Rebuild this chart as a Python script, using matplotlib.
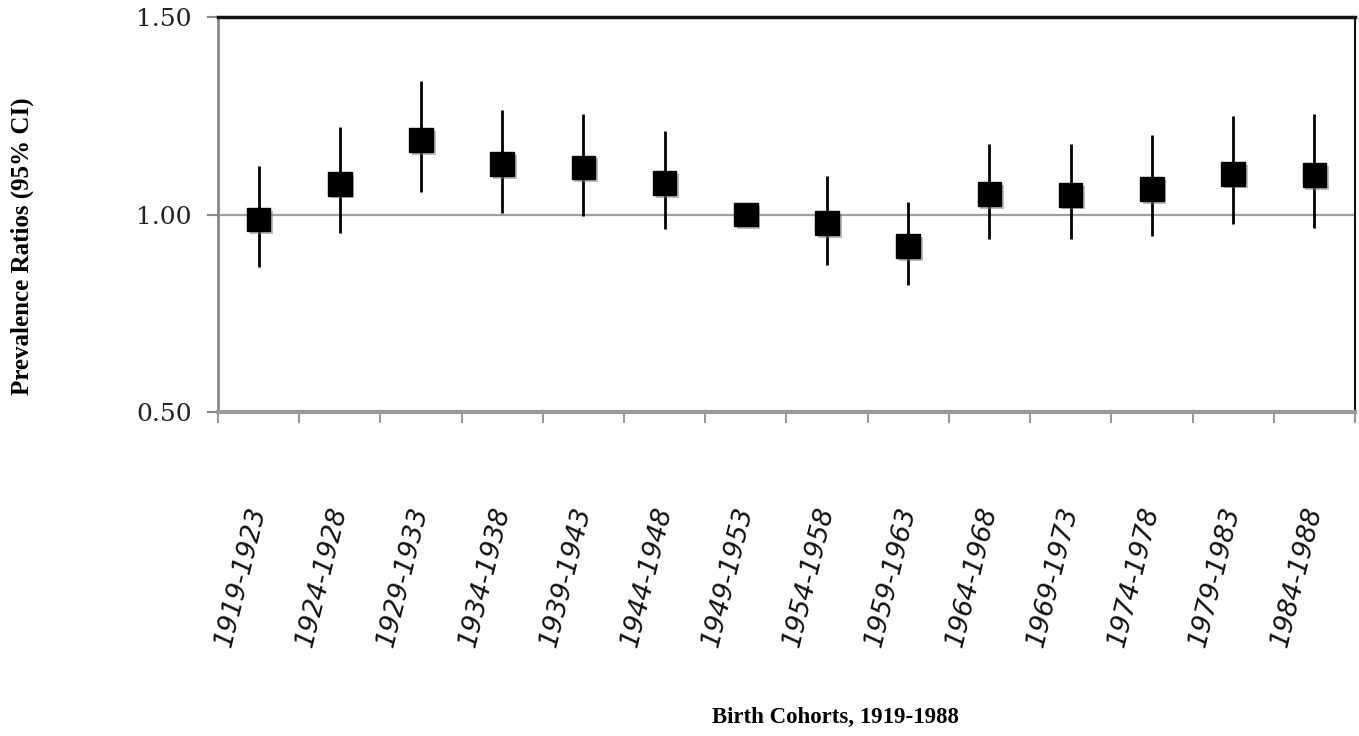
import numpy as np
import matplotlib
matplotlib.use('Agg')
import matplotlib.pyplot as plt
import matplotlib.patheffects as pe
from matplotlib.ticker import FixedLocator

cohorts = ['1919-1923', '1924-1928', '1929-1933', '1934-1938', '1939-1943',
           '1944-1948', '1949-1953', '1954-1958', '1959-1963', '1964-1968',
           '1969-1973', '1974-1978', '1979-1983', '1984-1988']
pr = [0.987, 1.078, 1.188, 1.128, 1.119, 1.080, 1.000,
      0.978, 0.920, 1.052, 1.050, 1.064, 1.103, 1.100]
ci_low = [0.868, 0.954, 1.057, 1.004, 0.997, 0.964, 1.000,
          0.872, 0.821, 0.939, 0.939, 0.945, 0.975, 0.965]
ci_high = [1.124, 1.221, 1.338, 1.265, 1.254, 1.212, 1.000,
           1.097, 1.031, 1.179, 1.179, 1.200, 1.249, 1.254]

fig = plt.figure(figsize=(13.59, 7.36), dpi=100)
ax = fig.add_axes([0.1604, 0.440, 0.8366, 0.537])

x = np.arange(len(cohorts))
pr = np.array(pr)
yerr = [pr - np.array(ci_low), np.array(ci_high) - pr]

# gridline at 1.00
ax.axhline(1.0, color='#a0a0a0', lw=1.6, zorder=1)

ax.errorbar(x, pr, yerr=yerr, fmt='none', ecolor='black', elinewidth=2.0,
            capsize=0, zorder=3)
ax.plot(x, pr, linestyle='none', marker='s', markersize=17, color='black',
        zorder=4,
        path_effects=[pe.SimplePatchShadow(offset=(2, -2), shadow_rgbFace='#777777',
                                           alpha=0.5), pe.Normal()])

ax.set_xlim(-0.5, len(cohorts) - 0.5)
ax.set_ylim(0.5, 1.5)
ax.set_yticks([0.5, 1.0, 1.5])
ax.set_yticklabels(['0.50', '1.00', '1.50'], fontsize=18, family='DejaVu Serif',
                   color='#222222')
ax.tick_params(axis='y', direction='out', length=8, width=1.5, color='#888888', pad=11)

ax.set_xticks(x)
ax.set_xticklabels(cohorts, rotation=76, fontsize=19, style='italic',
                   family='DejaVu Sans', ha='right', va='center',
                   rotation_mode='anchor', color='#111111')
ax.tick_params(axis='x', which='major', length=0, pad=68)
ax.xaxis.set_minor_locator(FixedLocator(np.arange(-0.5, len(cohorts), 1.0)))
ax.tick_params(axis='x', which='minor', direction='out', length=8, width=1.5,
               color='#999999')

ax.spines['left'].set_color('#888888')
ax.spines['left'].set_linewidth(2)
ax.spines['bottom'].set_color('#999999')
ax.spines['bottom'].set_linewidth(3)
ax.spines['top'].set_color('#111111')
ax.spines['top'].set_linewidth(2.5)
ax.spines['right'].set_color('#111111')
ax.spines['right'].set_linewidth(1.5)

fig.text(0.0166, 0.665, 'Prevalence Ratios (95% CI)', rotation=90, ha='center',
         va='center', fontsize=18, fontweight='bold', family='Liberation Serif')
fig.text(0.6145, 0.0245, 'Birth Cohorts, 1919-1988', ha='center', va='center',
         fontsize=16.5, fontweight='bold', family='Liberation Serif')

fig.savefig('out.png', dpi=100)
